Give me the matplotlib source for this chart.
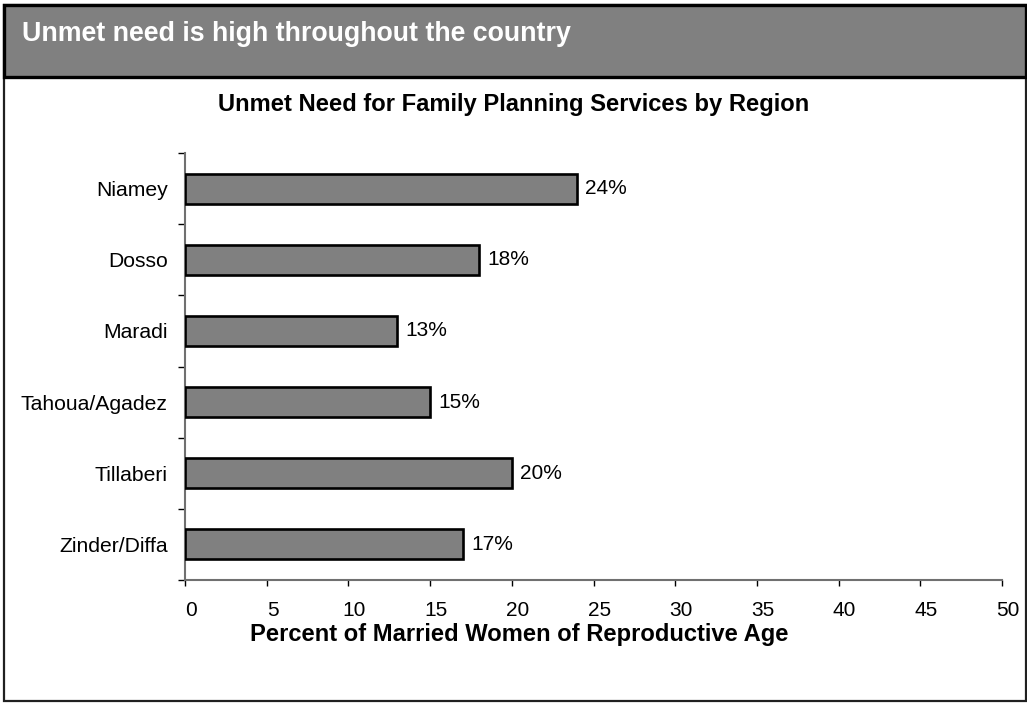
import matplotlib
matplotlib.use("Agg")
import matplotlib.pyplot as plt
from matplotlib.patches import Rectangle
from matplotlib.transforms import ScaledTranslation
import numpy as np

plt.rcParams['font.family'] = ['Liberation Sans', 'DejaVu Sans']

regions = ["Niamey", "Dosso", "Maradi", "Tahoua/Agadez", "Tillaberi", "Zinder/Diffa"]
unmet_need = [24, 18, 13, 15, 20, 17]
x_ticks = [0, 5, 10, 15, 20, 25, 30, 35, 40, 45, 50]

W, H = 1027, 703
fig = plt.figure(figsize=(W / 100, H / 100), dpi=100)
fig.patch.set_facecolor("white")

def fx(px):
    return px / W

def fy(py):
    return 1 - py / H

# Outer frame and grey header band
fig.add_artist(Rectangle((fx(3.5), fy(700.5)), fx(1022.5), fy(4.5) - fy(700.5),
                         transform=fig.transFigure, facecolor="white",
                         edgecolor="#202020", linewidth=1.6, zorder=0))
fig.add_artist(Rectangle((fx(3.5), fy(76.5)), fx(1022.5), fy(4.5) - fy(76.5),
                         transform=fig.transFigure, facecolor="#808080",
                         edgecolor="black", linewidth=2.4, zorder=1))
fig.text(fx(22), fy(34), "Unmet need is high throughout the country",
         color="white", fontsize=19.3, fontweight="bold", va="center", ha="left")

fig.text(fx(514), fy(105), "Unmet Need for Family Planning Services by Region",
         color="black", fontsize=17.1, fontweight="bold", va="center", ha="center")
fig.text(fx(519), fy(634), "Percent of Married Women of Reproductive Age",
         color="black", fontsize=17.1, fontweight="bold", va="center", ha="center")

ax = fig.add_axes([fx(185), fy(580), fx(1002) - fx(185), fy(153) - fy(580)])
ax.set_facecolor("none")

ypos = np.arange(len(regions))
ax.barh(ypos, unmet_need, height=0.42, color="#808080", edgecolor="black",
        linewidth=1.9, zorder=3)
for y, v in zip(ypos, unmet_need):
    ax.annotate(f"{v}%", xy=(v, y), xytext=(6, 0), textcoords="offset points",
                va="center", ha="left", fontsize=15, color="black")

ax.set_xlim(0, 50)
ax.set_ylim(len(regions) - 0.5, -0.5)

ax.set_xticks(x_ticks)
ax.set_xticklabels([str(t) for t in x_ticks], fontsize=15)
ax.tick_params(axis="x", direction="out", length=4, width=1, color="black", pad=11)
shift = ScaledTranslation(6 / 100, 0, fig.dpi_scale_trans)
for lbl in ax.get_xticklabels():
    lbl.set_transform(lbl.get_transform() + shift)

# category boundaries carry the tick marks; labels sit at bar centres
ax.set_yticks(np.arange(-0.5, len(regions)), minor=False)
ax.set_yticklabels([])
ax.set_yticks(ypos, minor=True)
ax.set_yticklabels(regions, minor=True, fontsize=15.2)
ax.tick_params(axis="y", which="major", direction="out", length=5, width=1, color="black")
ax.tick_params(axis="y", which="minor", length=0, pad=12.5)

for side in ("top", "right"):
    ax.spines[side].set_visible(False)
for side in ("left", "bottom"):
    ax.spines[side].set_color("#707070")
    ax.spines[side].set_linewidth(1.5)

fig.savefig("out.png", dpi=100, facecolor="white")
